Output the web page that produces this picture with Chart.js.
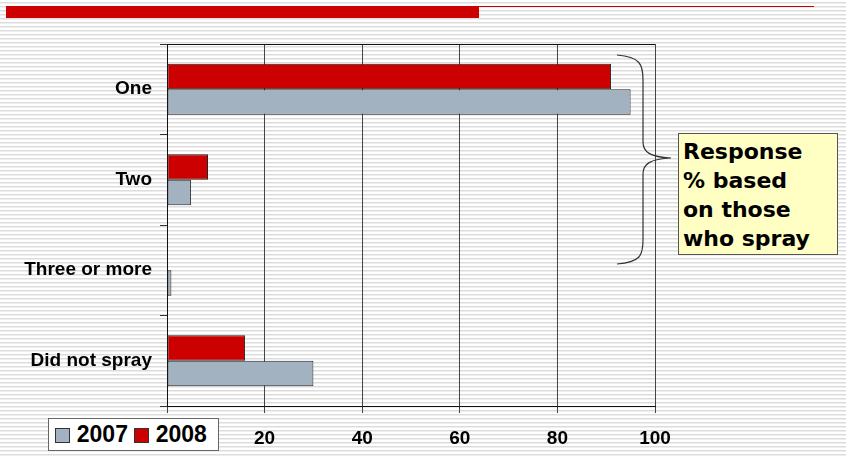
<!DOCTYPE html>
<html>
<head>
<meta charset="utf-8">
<script src="https://cdn.jsdelivr.net/npm/chart.js@4"></script>
<style>
  html, body { margin: 0; padding: 0; }
  body {
    width: 846px; height: 457px; overflow: hidden; position: relative;
    background: repeating-linear-gradient(to bottom, #ffffff 0px, #ffffff 2px, #dcdcdc 2px, #dcdcdc 3px, #eeeeee 3px, #eeeeee 4px);
    font-family: "Liberation Sans", Arial, sans-serif;
  }
  #wrap { position: absolute; left: 0; top: 0; width: 846px; height: 457px; }
  .redbar { position: absolute; left: 6px; top: 6px; width: 473px; height: 12px; background: #cc0000; }
  .redline { position: absolute; left: 479px; top: 6px; width: 335px; height: 1px; background: #cc0000; }
  .note {
    position: absolute; left: 678px; top: 133px; width: 160px; height: 122px;
    background: #ffffc4; border: 1px solid #555; box-sizing: border-box;
    font-family: "DejaVu Sans", Verdana, sans-serif; font-weight: bold; font-size: 22px;
    line-height: 29px; padding: 3px 0 0 4px; color: #000; white-space: nowrap;
  }
  .legend {
    position: absolute; left: 48px; top: 418px; width: 171px; height: 33px;
    background: #fff; border: 1px solid #666; box-sizing: border-box;
    font-weight: bold; font-size: 23px; line-height: 31px; white-space: nowrap;
  }
  .legend span.sw { display: inline-block; width: 15px; height: 15px; border: 1px solid #333; box-sizing: border-box; vertical-align: -1px; }
  svg.brace { position: absolute; left: 0; top: 0; }
</style>
</head>
<body>
<div class="redbar"></div>
<div class="redline"></div>
<div id="wrap"><canvas id="chart" width="846" height="457"></canvas></div>
<svg class="brace" width="846" height="457">
  <path d="M617,55 C640,57 643,64 643,80 L643,142 C643,152 650,157 671,158 C650,159 643,164 643,174 L643,240 C643,256 640,262 617,264" fill="none" stroke="#333" stroke-width="1.2"/>
</svg>
<div class="note">Response<br>% based<br>on those<br>who spray</div>
<div class="legend">&nbsp;<span class="sw" style="background:#a3b2c1"></span> 2007 <span class="sw" style="background:#cc0000"></span> 2008</div>
<script>
var categories = ['One', 'Two', 'Three or more', 'Did not spray'];
var values2008 = [91, 8.4, 0, 16];
var values2007 = [95, 4.9, 0.9, 30];
var xTicks = [0, 20, 40, 60, 80, 100];

var ctx = document.getElementById('chart').getContext('2d');
var chart = new Chart(ctx, {
  type: 'bar',
  data: {
    labels: categories,
    datasets: [
      {
        label: '2008',
        data: values2008,
        backgroundColor: '#cc0000',
        borderColor: '#222',
        borderWidth: 1,
        borderSkipped: false
      },
      {
        label: '2007',
        data: values2007,
        backgroundColor: '#a3b2c1',
        borderColor: '#222',
        borderWidth: 1,
        borderSkipped: false
      }
    ]
  },
  options: {
    indexAxis: 'y',
    responsive: false,
    animation: false,
    categoryPercentage: 0.565,
    barPercentage: 1.0,
    layout: { padding: { left: 0, top: 44, right: 191, bottom: 0 } },
    plugins: {
      legend: { display: false },
      tooltip: { enabled: false }
    },
    scales: {
      x: {
        min: 0,
        max: 100,
        afterBuildTicks: function (scale) {
          scale.ticks = xTicks.map(function (v) { return { value: v }; });
        },
        afterFit: function (scale) { scale.height = 51; },
        grid: { color: '#444', lineWidth: 1, tickLength: 7, tickColor: '#444' },
        border: { display: true, color: '#111', width: 1 },
        ticks: {
          color: '#000',
          padding: 14,
          maxRotation: 0,
          font: { family: 'Liberation Sans', weight: 'bold', size: 19 }
        }
      },
      y: {
        afterFit: function (scale) { scale.width = 167; },
        grid: {
          offset: true,
          color: function (c) { return c.index === 0 ? '#111' : 'rgba(0,0,0,0)'; },
          tickColor: '#333',
          tickLength: 7
        },
        border: { display: true, color: '#111', width: 1 },
        ticks: {
          color: '#000',
          padding: 8,
          font: { family: 'Liberation Sans', weight: 'bold', size: 19 }
        }
      }
    }
  }
});
</script>
</body>
</html>
